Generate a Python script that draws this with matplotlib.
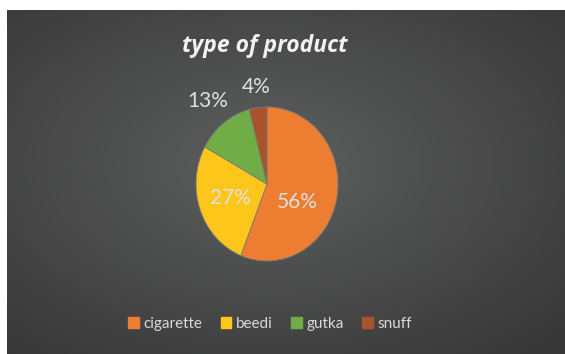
import numpy as np
import matplotlib
matplotlib.use("Agg")
import matplotlib.pyplot as plt

categories = ["cigarette", "beedi", "gutka", "snuff"]
values = [56, 27, 13, 4]
pct_labels = ["56%", "27%", "13%", "4%"]
colors = ["#ED7D31", "#FDC61A", "#70AD47", "#A9532A"]
label_radius = [0.48, 0.55, 1.36, 1.27]
label_angle_shift = [-18, 0, 0, 0]

W, H = 565, 354
fig = plt.figure(figsize=(W / 100, H / 100), dpi=100)
fig.patch.set_facecolor("white")

# background panel with radial gradient
bg = fig.add_axes([7 / W, 0, 1 - 7 / W, 1 - 10 / H])
bg.set_axis_off()
yy, xx = np.mgrid[0:1:300j, 0:1:500j]
cx, cy = 0.47, 0.45
d = np.sqrt(((xx - cx) / 0.75) ** 2 + ((yy - cy) / 0.75) ** 2)
d = np.clip(d, 0, 1)
inner = np.array([0x5e, 0x5f, 0x5f]) / 255
outer = np.array([0x36, 0x36, 0x36]) / 255
img = inner[None, None, :] * (1 - d[..., None]) + outer[None, None, :] * d[..., None]
bg.imshow(img, extent=[0, 1, 0, 1], aspect="auto", origin="upper")

fig.text(265 / W, 1 - 46 / H, "type of product", ha="center", va="center",
         fontsize=16.5, fontweight="bold", fontstyle="italic", color="#F2F2F2",
         family=["Open Sans", "DejaVu Sans"])

# pie axes
cxp, cyp, rx, ry = 267, 184, 71, 77
ax = fig.add_axes([(cxp - rx) / W, 1 - (cyp + ry) / H, 2 * rx / W, 2 * ry / H])
wedges, _ = ax.pie(values, colors=colors, startangle=90, counterclock=False,
                   wedgeprops=dict(linewidth=0.6, edgecolor="#7a7a7a"))
ax.set_aspect("auto")
ax.set_xlim(-1, 1)
ax.set_ylim(-1, 1)
ax.set_axis_off()
for w, lab, r, sh in zip(wedges, pct_labels, label_radius, label_angle_shift):
    ang = np.deg2rad((w.theta1 + w.theta2) / 2 + sh)
    ax.text(r * np.cos(ang), r * np.sin(ang), lab, ha="center", va="center",
            fontsize=15, color="#E0E0E0", family=["Lato", "DejaVu Sans"],
            clip_on=False)

handles = [plt.Rectangle((0, 0), 1, 1, color=c) for c in colors]
leg = fig.legend(handles, categories, loc="center", bbox_to_anchor=(270 / W, 1 - 324 / H),
                 ncol=4, frameon=False, handlelength=0.7, handleheight=0.7,
                 handletextpad=0.3, columnspacing=1.2,
                 prop={"family": ["Lato", "DejaVu Sans"], "size": 11})
for t in leg.get_texts():
    t.set_color("#D9D9D9")

fig.savefig("out.png", dpi=100, facecolor=fig.get_facecolor())
